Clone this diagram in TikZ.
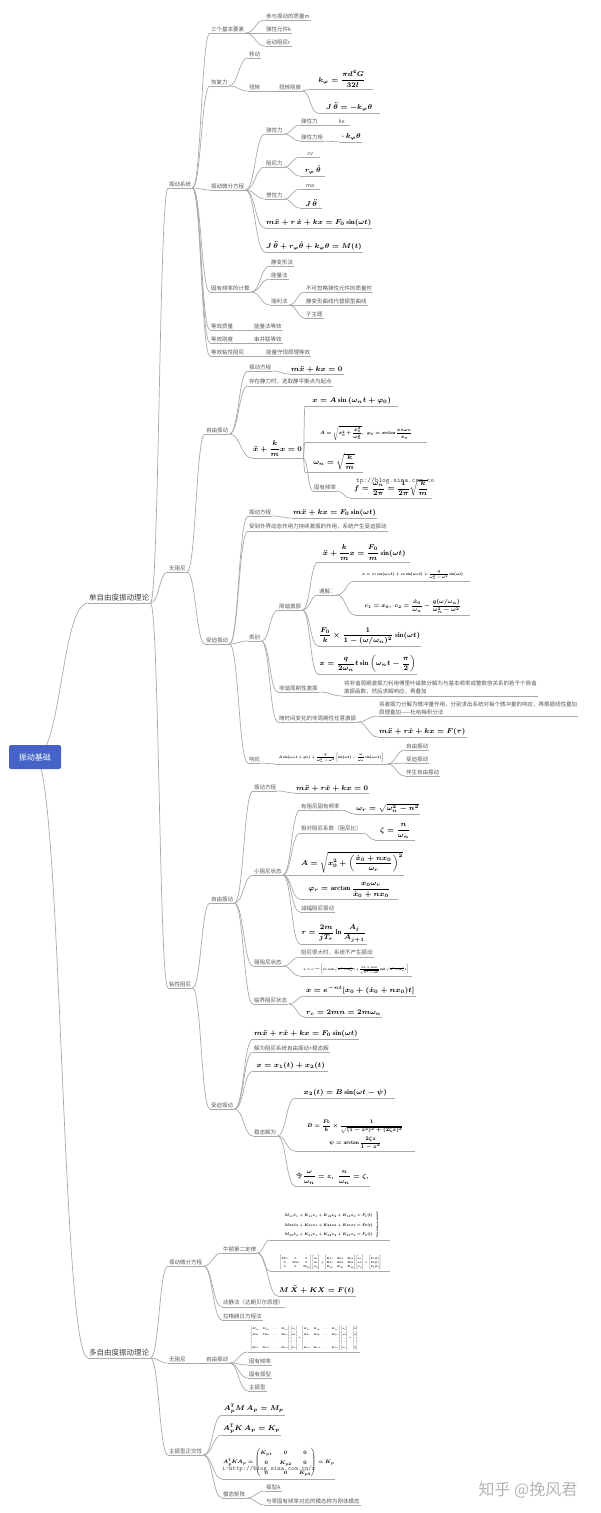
\documentclass[tikz,border=0pt]{standalone}
\usepackage{amsmath}
\usepackage{graphicx}
\usepackage{fontspec}
\newfontfamily\cjk{Noto Sans CJK SC}
\usetikzlibrary{calc,backgrounds}
\definecolor{lg}{HTML}{A9A9A9}
\definecolor{tg}{HTML}{555555}
\definecolor{rootblue}{HTML}{4563C6}
\definecolor{wm}{HTML}{B4B4B4}
\newcommand\lk[2]{\foreach \kid in {#2}{\draw[br] (#1.south east) to (\kid.south west);}}
\newcommand\rz[2]{\resizebox{#1pt}{!}{$#2$}}
\begin{document}
\begin{tikzpicture}[x=1pt,y=-1pt,
 ln/.style={draw=lg,line width=0.7pt},
 ul/.style={append after command={(\tikzlastnode.south west) edge[ln] (\tikzlastnode.south east)}},
 tx/.style={ul,anchor=south west,inner xsep=1pt,inner ysep=1.3pt,text=tg,font=\cjk\fontsize{5.5}{8}\selectfont},
 l1/.style={tx,font=\cjk\fontsize{7.5}{9}\selectfont,text=black!75},
 fm/.style={ul,anchor=south west,inner xsep=1pt,inner ysep=1.5pt,font=\fontsize{7}{8.4}\selectfont\boldmath},
 br/.style={ln,to path={.. controls ($(\tikztostart)!0.5!(\tikztostart -| \tikztotarget)$) and ($(\tikztotarget)!0.5!(\tikztotarget -| \tikztostart)$) .. (\tikztotarget)}},
 root/.style={fill=rootblue,text=white,rounded corners=2pt,minimum width=52,minimum height=24,font=\cjk\fontsize{8}{9}\selectfont},
 wmk/.style={text=wm,font=\cjk\fontsize{16}{18}\selectfont},
 ovl/.style={anchor=west,text=black!70,inner sep=0pt}
]
\useasboundingbox (0,0) rectangle (600,1513);
% root and level 1
\node[root] (root) at (35,757) {振动基础};
\node[l1] (s1) at (88,603) {单自由度振动理论};
\node[l1] (m1) at (88,1358) {多自由度振动理论};
\begin{pgfonlayer}{background}
\foreach \kid in {s1,m1}{\draw[br] (root.center) to (\kid.south west);}
\end{pgfonlayer}
% level 2
\node[tx] (a1) at (168,188) {振动系统};
\node[tx] (a2) at (168,572) {无阻尼};
\node[tx] (a3) at (168,988) {粘性阻尼};
\lk{s1}{a1,a2,a3}
% ---------- 振动系统
\node[tx] (b1) at (210,33) {三个基本要素};
\node[tx] (b2) at (210,86) {恢复力};
\node[tx] (b3) at (210,190) {振动微分方程};
\node[tx] (b4) at (210,292) {固有频率的计算};
\node[tx] (b5) at (210,330) {等效质量};
\node[tx] (b6) at (210,343) {等效刚度};
\node[tx] (b7) at (210,356) {等效粘性阻尼};
\lk{a1}{b1,b2,b3,b4,b5,b6,b7}
\node[tx] (c1) at (265,20) {参与振动的质量m};
\node[tx] (c2) at (265,33) {弹性元件k};
\node[tx] (c3) at (265,46) {运动阻尼r};
\lk{b1}{c1,c2,c3}
\node[tx] (c4) at (248,58) {移动};
\node[tx] (c5) at (248,91) {扭转};
\lk{b2}{c4,c5}
\node[tx] (c6) at (278,91) {扭转刚度};
\lk{c5}{c6}
\node[fm,minimum width=63] (f1) at (310,89) {$k_\varphi=\dfrac{\pi d^4G}{32l}$};
\node[fm,minimum width=62] (f2) at (318,113) {$J\,\ddot\theta=-k_\varphi\theta$};
\lk{c6}{f1,f2}
\node[tx] (c7) at (265,134) {弹性力};
\node[tx] (c11) at (265,167) {阻尼力};
\node[tx] (c13) at (265,199) {惯性力};
\node[fm,minimum width=100] (f6) at (265,228) {$m\ddot x+r\,\dot x+kx=F_0\sin(\omega t)$};
\node[fm,minimum width=90] (f7) at (265,252) {$J\,\ddot\theta+r_\varphi\dot\theta+k_\varphi\theta=M(t)$};
\lk{b3}{c7,c11,c13,f6,f7}
\node[tx] (c8) at (300,125) {弹性力};
\node[tx] (c10) at (300,141) {弹性力矩};
\lk{c7}{c8,c10}
\node[tx,minimum width=17] (c9) at (333,125) {kx};
\lk{c8}{c9}
\node[fm,minimum width=22] (f3) at (340,142) {$\cdot\,k_\varphi\theta$};
\lk{c10}{f3}
\node[tx,minimum width=20] (c12) at (300,157) {cv};
\node[fm,minimum width=25] (f4) at (300,176) {$r_\varphi\,\dot\theta$};
\lk{c11}{c12,f4}
\node[tx,minimum width=20] (c14) at (300,189) {ma};
\node[fm,minimum width=22] (f5) at (300,208) {$J\,\ddot\theta$};
\lk{c13}{c14,f5}
\node[tx] (c15) at (270,266) {静变形法};
\node[tx] (c16) at (270,279) {能量法};
\node[tx] (c17) at (270,305) {瑞利法};
\lk{b4}{c15,c16,c17}
\node[tx] (c18) at (305,292) {不可忽略弹性元件的质量时};
\node[tx] (c19) at (305,305) {静变形曲线代替振型曲线};
\node[tx] (c20) at (305,318) {子主题};
\lk{c17}{c18,c19,c20}
\node[tx] (c21) at (253,330) {能量法等效};
\node[tx] (c22) at (253,343) {串并联等效};
\node[tx] (c23) at (265,356) {能量守恒原理等效};
\lk{b5}{c21}\lk{b6}{c22}\lk{b7}{c23}
% ---------- 无阻尼
\node[tx] (d1) at (205,434) {自由振动};
\node[tx] (d2) at (205,644) {受迫振动};
\lk{a2}{d1,d2}
\node[tx] (e1) at (248,371) {振动方程};
\node[tx] (e2) at (248,386) {存在静力时，选取静平衡点为起点};
\node[fm,minimum width=45] (f9) at (252,458) {$\ddot x+\dfrac{k}{m}x=0$};
\lk{d1}{e1,e2,f9}
\node[fm,minimum width=48] (f8) at (290,374) {$m\ddot x+kx=0$};
\lk{e1}{f8}
\node[fm,minimum width=93] (f10) at (305,406) {$x=A\sin\,(\omega_nt+\varphi_0)$};
\node[fm,minimum width=122] (f11) at (305,442) {\rz{92}{A=\sqrt{x_0^2+\dfrac{\dot x_0^2}{\omega_n^2}},\ \varphi_0=\arctan\dfrac{x_0\omega_n}{\dot x_0}}};
\node[fm,minimum width=58] (f12) at (305,472) {$\omega_n=\sqrt{\dfrac{k}{m}}$};
\node[tx] (e3) at (313,491) {固有频率};
\lk{f9}{f10,f11,f12,e3}
\node[fm,minimum width=82] (f13) at (350,498) {$f=\dfrac{\omega_n}{2\pi}=\dfrac{1}{2\pi}\sqrt{\dfrac{k}{m}}$};
\lk{e3}{f13}
\node[ovl,font=\ttfamily\fontsize{7}{8}\selectfont] (w1) at (356,481) {tp://blog.sina.com.co};
\node[tx] (e4) at (248,516) {振动方程};
\node[tx] (e5) at (248,531) {受到外界动态作用力持续激振的作用，系统产生受迫振动};
\node[tx] (e6) at (248,641) {类别};
\node[tx] (e7) at (248,763) {响应};
\lk{d2}{e4,e5,e6,e7}
\node[fm,minimum width=83] (f14) at (292,518) {$m\ddot x+kx=F_0\sin(\omega t)$};
\lk{e4}{f14}
\node[tx] (e8) at (278,610) {简谐激振};
\node[tx] (e9) at (278,692) {非谐周期性激振};
\node[tx] (e10) at (278,722) {随时间变化的非周期性任意激振};
\lk{e6}{e8,e9,e10}
\node[fm,minimum width=92] (f15) at (318,562) {$\ddot x+\dfrac{k}{m}x=\dfrac{F_0}{m}\sin(\omega t)$};
\node[tx] (e11) at (318,595) {通解：};
\node[fm,minimum width=99] (f16) at (318,646) {$\dfrac{F_0}{k}\times\dfrac{1}{1-(\omega/\omega_n)^2}\sin(\omega t)$};
\node[fm,minimum width=99] (f17) at (318,674) {$x=\dfrac{q}{2\omega_n}t\sin\left(\omega_nt-\dfrac{\pi}{2}\right)$};
\lk{e8}{f15,e11,f16,f17}
\node[fm,minimum width=115] (f18) at (355,581) {\rz{101}{x=c_1\cos(\omega_nt)+c_2\sin(\omega_nt)+\dfrac{q}{\omega_n^2-\omega^2}\sin(\omega t)}};
\node[fm,minimum width=115] (f19) at (355,615) {\rz{96}{c_1=x_0,\ c_2=\dfrac{\dot x_0}{\omega_n}-\dfrac{q(\omega/\omega_n)}{\omega_n^2-\omega^2}}};
\lk{e11}{f18,f19}
\node[tx,align=left] (e12) at (343,696) {将非谐周期激振力利用傅里叶级数分解为与基本频率成整数倍关系的若干个简谐\\激振函数，然后求解响应，再叠加};
\lk{e9}{e12}
\node[tx,align=left] (e13) at (378,716) {将激振力分解为微冲量作用，分别求出系统对每个微冲量的响应，再根据线性叠加\\原理叠加——杜哈梅积分法};
\node[fm,minimum width=77] (f20) at (378,737) {$m\ddot x+r\dot x+kx=F(\tau)$};
\lk{e10}{e13,f20}
\node[fm,minimum width=112] (f21) at (275,764) {\rz{105}{A\sin(\omega_nt+\varphi_0)+\dfrac{q}{\omega_n^2-\omega^2}\left[\sin(\omega t)-\dfrac{\omega}{\omega_n}\sin(\omega_nt)\right]}};
\lk{e7}{f21}
\node[tx] (e14) at (405,750) {自由振动};
\node[tx] (e15) at (405,763) {受迫振动};
\node[tx] (e16) at (405,776) {伴生自由振动};
\lk{f21}{e14,e15,e16}
% ---------- 粘性阻尼
\node[tx] (g1) at (210,903) {自由振动};
\node[tx] (g2) at (210,1109) {受迫振动};
\lk{a3}{g1,g2}
\node[tx] (h1) at (253,791) {振动方程};
\node[tx] (h2) at (253,875) {小阻尼状态};
\node[tx] (h3) at (253,966) {强阻尼状态};
\node[tx] (h4) at (253,1004) {临界阻尼状态};
\lk{g1}{h1,h2,h3,h4}
\node[fm,minimum width=72] (f22) at (295,793) {$m\ddot x+r\dot x+kx=0$};
\lk{h1}{f22}
\node[tx] (h5) at (300,810) {有阻尼固有频率};
\node[tx] (h6) at (300,833) {相对阻尼系数（阻尼比）};
\node[fm,minimum width=95] (f25) at (300,875) {$A=\sqrt{x_0^2+\left(\dfrac{\dot x_0+nx_0}{\omega_r}\right)^2}$};
\node[fm,minimum width=98] (f26) at (300,899) {$\varphi_r=\arctan\dfrac{x_0\omega_r}{\dot x_0+nx_0}$};
\node[tx] (h7) at (300,912) {减幅阻尼振动};
\node[fm,minimum width=67] (f27) at (300,944) {$r=\dfrac{2m}{jT_r}\ln\dfrac{A_j}{A_{j+1}}$};
\lk{h2}{h5,h6,f25,f26,h7,f27}
\node[fm,minimum width=65] (f23) at (355,814) {$\omega_r=\sqrt{\omega_n^2-n^2}$};
\lk{h5}{f23}
\node[fm,minimum width=40] (f24) at (375,840) {$\zeta=\dfrac{n}{\omega_n}$};
\lk{h6}{f24}
\node[tx] (h8) at (300,957) {阻尼很大时，系统不产生振动};
\node[fm,minimum width=112] (f28) at (300,976) {\rz{105}{x=e^{-nt}\left[x_0\cosh\sqrt{n^2-\omega_n^2}\,t+\dfrac{\dot x_0+nx_0}{\sqrt{n^2-\omega_n^2}}\sinh\sqrt{n^2-\omega_n^2}\,t\right]}};
\lk{h3}{h8,f28}
\node[fm,minimum width=105] (f29) at (305,996) {$x=e^{-nt}[x_0+(\dot x_0+nx_0)t]$};
\node[fm,minimum width=70] (f30) at (305,1017) {$r_c=2mn=2m\omega_n$};
\lk{h4}{f29,f30}
\node[fm,minimum width=100] (f31) at (253,1039) {$m\ddot x+r\dot x+kx=F_0\sin(\omega t)$};
\node[tx] (h9) at (253,1052) {解为阻尼系统自由振动+稳态解};
\node[fm,minimum width=75] (f32) at (253,1071) {$x=x_1(t)+x_2(t)$};
\node[tx] (h10) at (253,1136) {稳态解为};
\lk{g2}{f31,h9,f32,h10}
\node[fm,minimum width=100] (f33) at (295,1098) {$x_2(t)=B\sin(\omega t-\psi)$};
\node[fm,minimum width=120,align=center] (f34) at (295,1151) {\rz{96}{B=\dfrac{F_0}{k}\times\dfrac{1}{\sqrt{(1-z^2)^2+(2\zeta z)^2}}}\\[2pt]\rz{52}{\psi=\arctan\dfrac{2\zeta z}{1-z^2}}};
\node[fm,minimum width=68,font=\fontsize{6.5}{7.8}\selectfont\boldmath] (f35) at (295,1186) {{\cjk 令}$\dfrac{\omega}{\omega_n}=z,\ \dfrac{n}{\omega_n}=\zeta,$};
\lk{h10}{f33,f34,f35}
% ---------- 多自由度
\node[tx] (k1) at (168,1266) {振动微分方程};
\node[tx] (k2) at (168,1363) {无阻尼};
\node[tx] (k3) at (168,1455) {主振型正交性};
\lk{m1}{k1,k2,k3}
\node[tx] (k4) at (222,1253) {牛顿第二定律};
\node[tx] (k5) at (222,1307) {动静法（达朗贝尔原理）};
\node[tx] (k6) at (222,1320) {拉格朗日方程法};
\lk{k1}{k4,k5,k6}
\node[fm,minimum width=120] (f36) at (270,1240) {\renewcommand\arraystretch{2.1}\rz{98}{\left.\begin{array}{l}M_{11}\ddot x_1+K_{11}x_1+K_{12}x_2+K_{13}x_3=F_1(t)\\M_{22}\ddot x_2+K_{21}x_1+K_{22}x_2+K_{23}x_3=F_2(t)\\M_{33}\ddot x_3+K_{31}x_1+K_{32}x_2+K_{33}x_3=F_3(t)\end{array}\right\}}};
\node[fm,minimum width=120] (f37) at (270,1271) {\renewcommand\arraystretch{1.3}\rz{102}{\begin{bmatrix}M_{11}&0&0\\0&M_{22}&0\\0&0&M_{33}\end{bmatrix}\!\begin{bmatrix}\ddot x_1\\\ddot x_2\\\ddot x_3\end{bmatrix}+\begin{bmatrix}K_{11}&K_{12}&K_{13}\\K_{21}&K_{22}&K_{23}\\K_{31}&K_{32}&K_{33}\end{bmatrix}\!\begin{bmatrix}x_1\\x_2\\x_3\end{bmatrix}=\begin{bmatrix}F_1(t)\\F_2(t)\\F_3(t)\end{bmatrix}}};
\node[fm,minimum width=75] (f38) at (278,1296) {$M\,\ddot X+KX=F(t)$};
\lk{k4}{f36,f37,f38}
\node[tx] (k7) at (205,1363) {自由振动};
\lk{k2}{k7}
\node[fm,minimum width=112] (f39) at (248,1352) {\renewcommand\arraystretch{1.9}\rz{108}{\begin{bmatrix}M_{11}&M_{12}&\cdots&M_{1n}\\M_{21}&M_{22}&\cdots&M_{2n}\\\vdots&\vdots&\ddots&\vdots\\M_{n1}&M_{n2}&\cdots&M_{nn}\end{bmatrix}\!\begin{bmatrix}\ddot x_1\\\ddot x_2\\\vdots\\\ddot x_n\end{bmatrix}+\begin{bmatrix}K_{11}&K_{12}&\cdots&K_{1n}\\K_{21}&K_{22}&\cdots&K_{2n}\\\vdots&\vdots&\ddots&\vdots\\K_{n1}&K_{n2}&\cdots&K_{nn}\end{bmatrix}\!\begin{bmatrix}x_1\\x_2\\\vdots\\x_n\end{bmatrix}=\begin{bmatrix}0\\0\\\vdots\\0\end{bmatrix}}};
\node[tx] (k8) at (248,1365) {固有频率};
\node[tx] (k9) at (248,1378) {固有振型};
\node[tx] (k10) at (248,1391) {主振型};
\lk{k7}{f39,k8,k9,k10}
\node[fm,minimum width=63] (f40) at (222,1415) {$A_p^{\mathrm T}M\,A_p=M_p$};
\node[fm,minimum width=58] (f41) at (222,1435) {$A_p^{\mathrm T}K\,A_p=K_p$};
\node[fm,minimum width=113] (f42) at (222,1479) {\renewcommand\arraystretch{1.6}\rz{111}{A_p^{\mathrm T}KA_p=\begin{pmatrix}K_{p1}&0&0\\0&K_{p2}&0\\0&0&K_{p3}\end{pmatrix}=K_p}};
\node[tx] (k11) at (222,1498) {模态矩阵};
\lk{k3}{f40,f41,f42,k11}
\node[ovl,font=\ttfamily\fontsize{6.5}{8}\selectfont] (w2) at (222,1469) {i—http://blog.sina.com.cn/x};
\node[tx] (k12) at (265,1491) {振型A};
\node[tx] (k13) at (265,1505) {与零固有频率对应的模态称为刚体模态};
\lk{k11}{k12,k13}
\node[wmk] (zh) at (528,1490) {知乎 @挽风君};
\end{tikzpicture}
\end{document}
